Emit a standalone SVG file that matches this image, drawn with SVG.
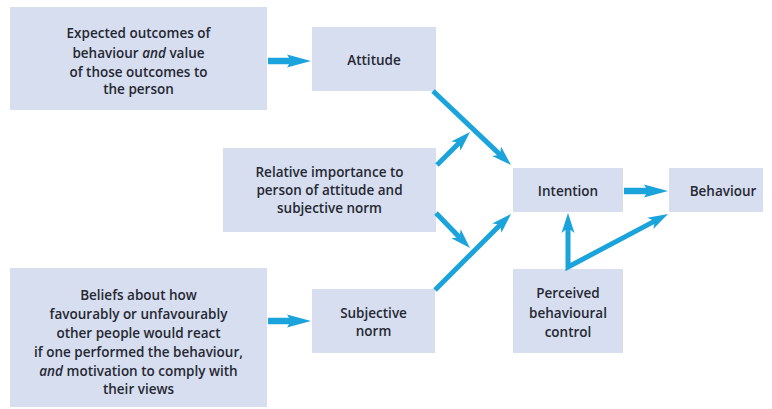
<svg xmlns="http://www.w3.org/2000/svg" width="772" height="409" viewBox="0 0 772 409">
<defs>
<style>
.box{fill:#d6deef;}
.t{font-family:"Open Sans","Noto Sans","Liberation Sans",sans-serif;font-weight:600;font-size:13.5px;fill:#262833;text-anchor:middle;}
.i{font-style:italic;}
.ah{stroke:#1ba3dc;stroke-width:6.5;fill:none;marker-end:url(#mh);}
.ad{stroke:#1ba3dc;stroke-width:5;fill:none;marker-end:url(#md);stroke-linejoin:miter;}
</style>
<marker id="mh" markerUnits="userSpaceOnUse" viewBox="0 -8 26 16" markerWidth="26" markerHeight="16" refX="6" refY="0" orient="auto">
<path d="M0,-6.5 L24,0 L0,6.5 L4,0 Z" fill="#1ba3dc"/>
</marker>
<marker id="md" markerUnits="userSpaceOnUse" viewBox="0 -8 22 16" markerWidth="22" markerHeight="16" refX="7" refY="0" orient="auto-start-reverse">
<path d="M0,-6.5 L20,0 L0,6.5 L5,0 Z" fill="#1ba3dc"/>
</marker>
</defs>
<rect width="772" height="409" fill="#ffffff"/>
<g id="expected">
<rect class="box" x="10" y="7" width="257" height="103"/>
<text class="t" x="138.5" y="38">Expected outcomes of</text>
<text class="t" x="138.5" y="57.5">behaviour <tspan class="i">and</tspan> value</text>
<text class="t" x="138.5" y="76.5">of those outcomes to</text>
<text class="t" x="138.5" y="94">the person</text>
</g>
<g id="attitude">
<rect class="box" x="312" y="27" width="124" height="64"/>
<text class="t" x="374" y="65">Attitude</text>
</g>
<g id="relative">
<rect class="box" x="223" y="148" width="213" height="84"/>
<text class="t" x="329.5" y="176.5">Relative importance to</text>
<text class="t" x="329.5" y="195">person of attitude and</text>
<text class="t" x="329.5" y="213">subjective norm</text>
</g>
<g id="beliefs">
<rect class="box" x="10" y="268" width="257" height="139"/>
<text class="t" x="138.5" y="300">Beliefs about how</text>
<text class="t" x="138.5" y="318.5">favourably or unfavourably</text>
<text class="t" x="138.5" y="338">other people would react</text>
<text class="t" x="138.5" y="357">if one performed the behaviour,</text>
<text class="t" x="138.5" y="375.5"><tspan class="i">and</tspan> motivation to comply with</text>
<text class="t" x="138.5" y="394">their views</text>
</g>
<g id="subjective">
<rect class="box" x="312" y="289" width="123" height="64"/>
<text class="t" x="373.5" y="318">Subjective</text>
<text class="t" x="373.5" y="336">norm</text>
</g>
<g id="intention">
<rect class="box" x="513" y="168" width="110" height="44"/>
<text class="t" x="568" y="196">Intention</text>
</g>
<g id="behaviour">
<rect class="box" x="669" y="168" width="94" height="44"/>
<text class="t" x="723" y="196">Behaviour</text>
</g>
<g id="control">
<rect class="box" x="513" y="269" width="110" height="84"/>
<text class="t" x="568" y="298">Perceived</text>
<text class="t" x="568" y="317.5">behavioural</text>
<text class="t" x="568" y="336.5">control</text>
</g>
<g id="connectors">
<line class="ah" x1="268" y1="61" x2="293" y2="61"/>
<line class="ah" x1="268" y1="321" x2="293" y2="321"/>
<line class="ah" x1="624" y1="191" x2="650" y2="191"/>
<line class="ad" x1="433" y1="91" x2="501.6" y2="156.1"/>
<line class="ad" x1="437" y1="165" x2="460.8" y2="141.2"/>
<line class="ad" x1="436" y1="213" x2="460.9" y2="238.7"/>
<line class="ad" x1="435" y1="290" x2="501.8" y2="223.2"/>
<path class="ad" d="M568,226 L568,267 L656.5,220.1" style="marker-start:url(#md)"/>
</g>
</svg>
